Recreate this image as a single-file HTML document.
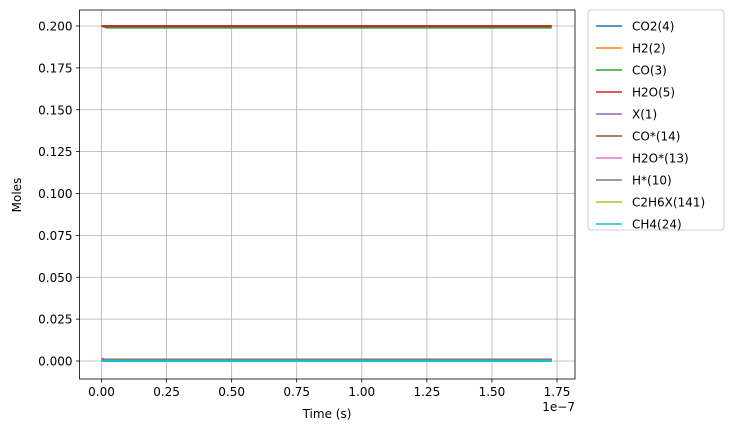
<!DOCTYPE html>
<html><head><meta charset="utf-8"><style>
body{margin:0;background:#fff;font-family:"Liberation Sans","DejaVu Sans",sans-serif}
svg text{font-family:"DejaVu Sans","Liberation Sans",sans-serif;font-size:12px;fill:#000}
</style></head><body>
<svg width="731" height="432" xmlns="http://www.w3.org/2000/svg">
<g id="grid"></g><g id="series"></g><g id="axes"></g><g id="legend"></g>
</svg>
<script>
const times=[0,0.02,1.73];
const seriesNames=["CO2(4)","H2(2)","CO(3)","H2O(5)","X(1)","CO*(14)","H2O*(13)","H*(10)","C2H6X(141)","CH4(24)"];
const colors=["#1f77b4","#ff7f0e","#2ca02c","#d62728","#9467bd","#8c564b","#e377c2","#7f7f7f","#bcbd22","#17becf"];
const seriesValues=[
[0,0.0005,0.0005],[0,0.0005,0.0005],[0.2,0.199,0.199],[0.2,0.2,0.2],
[0.0015,0.0005,0.0005],[0,0.0009,0.0009],[0,0.0002,0.0002],[0,0.0007,0.0007],[0,0,0],[0,0,0]];
const xTicks=[0,0.25,0.5,0.75,1.0,1.25,1.5,1.75];
const yTicks=[0,0.025,0.05,0.075,0.1,0.125,0.15,0.175,0.2];
const L=79.5,R=575,T=10,B=379;
const xs=v=>101.5+v*(557-101.5)/1.75;
const ys=v=>361-v*(361-26)/0.2;
const NS="http://www.w3.org/2000/svg";
function mk(p,t,a){const e=document.createElementNS(NS,t);for(const k in a)e.setAttribute(k,a[k]);p.appendChild(e);return e;}
const g=document.getElementById('grid'),s=document.getElementById('series'),ax=document.getElementById('axes'),lg=document.getElementById('legend');
xTicks.forEach(v=>{const x=xs(v);
const gl=mk(g,'line',{x1:x,x2:x,y1:T,y2:B,stroke:'#b0b0b0','stroke-width':0.8});


mk(ax,'line',{x1:x,x2:x,y1:B,y2:B+3.5,stroke:'#000','stroke-width':0.8});
const t=mk(ax,'text',{x:x,y:B+17,'text-anchor':'middle'});t.textContent=v.toFixed(2);

});
yTicks.forEach(v=>{const y=ys(v);
const gl=mk(g,'line',{x1:L,x2:R,y1:y,y2:y,stroke:'#b0b0b0','stroke-width':0.8});


mk(ax,'line',{x1:L-3.5,x2:L,y1:y,y2:y,stroke:'#000','stroke-width':0.8});
const t=mk(ax,'text',{x:L-7,y:y+4.5,'text-anchor':'end'});t.textContent=v.toFixed(3);

});
seriesValues.forEach((vals,i)=>{
const p=mk(s,'polyline',{points:vals.map((v,j)=>xs(times[j])+','+ys(v)).join(' '),fill:'none',stroke:colors[i],'stroke-width':2});

});
const fr=mk(ax,'rect',{x:L,y:T,width:R-L,height:B-T,fill:'none',stroke:'#000','stroke-width':0.8});


let t=mk(ax,'text',{x:327,y:418,'text-anchor':'middle'});t.textContent='Time  (s)';


t=mk(ax,'text',{x:21,y:195,'text-anchor':'middle',transform:'rotate(-90 21 195)'});t.textContent='Moles';


t=mk(ax,'text',{x:575,y:411,'text-anchor':'end'});t.textContent='1e−7';


const box=mk(lg,'rect',{x:588,y:10,width:136,height:220,rx:3,fill:'#fff',stroke:'#d0d0d0','stroke-width':1});


seriesNames.forEach((n,i)=>{const y=26+i*22;
mk(lg,'line',{x1:596,x2:622,y1:y,y2:y,stroke:colors[i],'stroke-width':1.5});
const tx=mk(lg,'text',{x:632,y:y+4.5});tx.textContent=n;

});
</script>
</body></html>
